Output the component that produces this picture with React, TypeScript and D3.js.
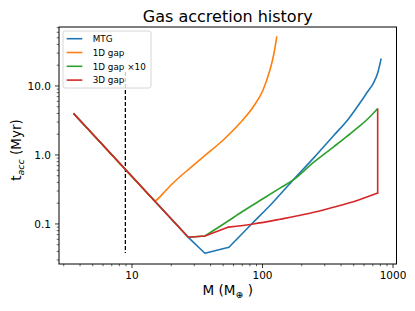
import React from 'react';
import * as d3 from 'd3';

// values (M in Earth masses, t in Myr)
const mtg: [number, number][] = [
  [3.6, 3.93], [27, 0.064], [36.2, 0.0376], [55.3, 0.046], [82.6, 0.1], [120, 0.205],
  [167, 0.41], [250, 0.93], [350, 1.9], [454, 3.3], [570, 6.0], [640, 8.3],
  [706, 10.9], [760, 15], [809, 24.4],
];
const gap1d: [number, number][] = [
  [3.6, 3.93], [15, 0.212], [16.3, 0.245], [18, 0.3], [20, 0.37], [22.6, 0.46],
  [28, 0.65], [35.2, 0.94], [50, 1.65], [67, 2.88], [85, 5.0], [101, 8.75],
  [114, 17], [122.5, 29.8], [128.5, 51],
];
const gap1dx10: [number, number][] = [
  [3.6, 3.93], [27, 0.064], [36.2, 0.067], [50, 0.099], [67, 0.143], [100, 0.23],
  [136, 0.33], [172, 0.434], [246, 0.78], [349, 1.3], [441, 1.84], [530, 2.45],
  [628, 3.21], [755, 4.6],
];
const gap3d: [number, number][] = [
  [3.6, 3.93], [27, 0.064], [36.2, 0.067], [55, 0.09], [85, 0.1], [136, 0.117],
  [231, 0.143], [350, 0.175], [497, 0.21], [763, 0.28], [763, 4.6],
];

const seriesNames = ['MTG', '1D gap', '1D gap \u00d710', '3D gap'];
const seriesColors = ['#1f77b4', '#ff7f0e', '#2ca02c', '#d62728'];
const seriesData = [mtg, gap1d, gap1dx10, gap3d];
// index range of each series drawn as a smooth curve (the rest are straight segments)
const smoothRange: [number, number][] = [[3, 14], [1, 14], [2, 13], [3, 9]];

const dashedM = 8.9;
const dashedT: [number, number] = [0.038, 16];

const xTicks = [10, 100, 1000];
const xTickLabels = ['10', '100', '1000'];
const yTicks = [0.1, 1, 10];
const yTickLabels = ['0.1', '1.0', '10.0'];

const W = 415;
const H = 311;
const left = 59;
const right = 396.5;
const top = 27;
const bottom = 264;
const font = '"DejaVu Sans", sans-serif';

export default function App() {
  const x = d3.scaleLog().domain([2.759, 1063.6]).range([left, right]);
  const y = d3.scaleLog().domain([71.6, 0.02627]).range([top, bottom]);

  const straight = d3.line<[number, number]>().x(d => x(d[0])).y(d => y(d[1]));
  const smooth = d3.line<[number, number]>().x(d => x(d[0])).y(d => y(d[1])).curve(d3.curveMonotoneX);

  const pathFor = (d: [number, number][], r: [number, number]) => {
    const parts: string[] = [];
    parts.push(straight(d.slice(0, r[0] + 1)) || '');
    parts.push(smooth(d.slice(r[0], r[1] + 1)) || '');
    if (r[1] < d.length - 1) parts.push(straight(d.slice(r[1])) || '');
    return parts.join(' ');
  };

  const minorX: number[] = [];
  [1, 10, 100].forEach(dec => {
    for (let k = 2; k <= 9; k++) {
      const v = dec * k;
      if (v >= x.domain()[0] && v <= x.domain()[1]) minorX.push(v);
    }
  });
  const minorY: number[] = [];
  [0.01, 0.1, 1, 10].forEach(dec => {
    for (let k = 2; k <= 9; k++) {
      const v = dec * k;
      if (v >= y.domain()[1] && v <= y.domain()[0]) minorY.push(v);
    }
  });

  return (
    <svg width={W} height={H} style={{ position: 'absolute', left: 0, top: 0, background: '#fff' }}
      fontFamily={font}>
      <defs>
        <clipPath id="plot">
          <rect x={left} y={top} width={right - left} height={bottom - top} />
        </clipPath>
      </defs>

      <text x={(left + right) / 2} y={21.5} textAnchor="middle" fontSize={16}>Gas accretion history</text>

      <g clipPath="url(#plot)">
        <line x1={x(dashedM)} x2={x(dashedM)} y1={y(dashedT[1])} y2={y(dashedT[0])}
          stroke="#000" strokeWidth={1.3} strokeDasharray="4,2" />
        {seriesData.map((d, i) => (
          <path key={i} d={pathFor(d, smoothRange[i])} fill="none" stroke={seriesColors[i]} strokeWidth={1.6}
            strokeLinejoin="round" strokeLinecap="square" />
        ))}
      </g>

      {/* spines */}
      <rect x={left} y={top} width={right - left} height={bottom - top} fill="none" stroke="#000" strokeWidth={1} />

      {/* x ticks */}
      {minorX.map(v => (
        <line key={'mx' + v} x1={x(v)} x2={x(v)} y1={bottom} y2={bottom + 2.3} stroke="#000" strokeWidth={0.6} />
      ))}
      {xTicks.map((v, i) => (
        <g key={'x' + v}>
          <line x1={x(v)} x2={x(v)} y1={bottom} y2={bottom + 4} stroke="#000" strokeWidth={0.8} />
          <text x={x(v)} y={279.3} textAnchor="middle" fontSize={10.5}>{xTickLabels[i]}</text>
        </g>
      ))}

      {/* y ticks */}
      {minorY.map(v => (
        <line key={'my' + v} x1={left - 2.3} x2={left} y1={y(v)} y2={y(v)} stroke="#000" strokeWidth={0.6} />
      ))}
      {yTicks.map((v, i) => (
        <g key={'y' + v}>
          <line x1={left - 4} x2={left} y1={y(v)} y2={y(v)} stroke="#000" strokeWidth={0.8} />
          <text x={51} y={y(v) + 3.8} textAnchor="end" fontSize={10.5}>{yTickLabels[i]}</text>
        </g>
      ))}

      {/* axis labels */}
      <text x={(left + right) / 2} y={295} textAnchor="middle" fontSize={13.5}>
        M (M<tspan fontSize={9.5} dy={2.5}>{'\u2295'}</tspan><tspan dy={-2.5}> )</tspan>
      </text>
      <text transform={`translate(21,150) rotate(-90)`} textAnchor="middle" fontSize={13.5}>
        t<tspan fontSize={9.5} fontStyle="italic" dy={2.5}>acc</tspan><tspan dy={-2.5}> (Myr)</tspan>
      </text>

      {/* legend */}
      <g>
        <rect x={63} y={31} width={88} height={57} rx={2} fill="#fff" fillOpacity={0.8} stroke="#ccc" strokeWidth={0.8} />
        {seriesNames.map((n, i) => {
          const ry = 38.7 + i * 13.8;
          return (
            <g key={n}>
              <line x1={66.7} x2={82.3} y1={ry} y2={ry} stroke={seriesColors[i]} strokeWidth={1.6} />
              <text x={92.7} y={ry + 3.2} fontSize={8.8}>{n}</text>
            </g>
          );
        })}
      </g>
    </svg>
  );
}
